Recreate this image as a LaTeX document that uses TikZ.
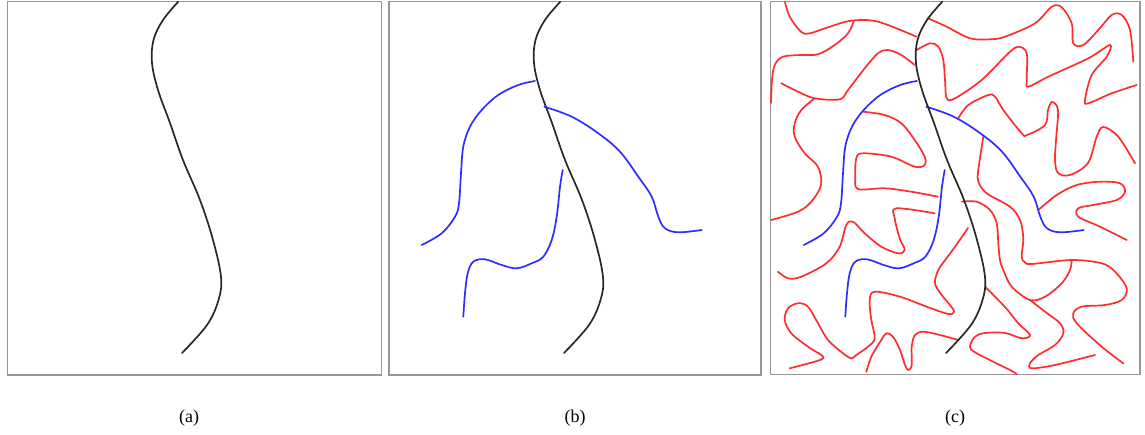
\documentclass[tikz,border=0pt]{standalone}
\usepackage{fontspec}
\setmainfont{Liberation Serif}
\definecolor{fr}{RGB}{150,150,150}
\definecolor{rd}{RGB}{255,45,45}
\definecolor{bl}{RGB}{45,45,255}
\definecolor{bk}{RGB}{40,40,40}
\tikzset{
  frame/.style={draw=fr, line width=1.4pt},
  blk/.style={draw=bk, line width=1.7pt, line cap=round},
  blu/.style={draw=bl, line width=1.7pt, line cap=round},
  red/.style={draw=rd, line width=1.7pt, line cap=round},
  lab/.style={font=\fontsize{18}{21}\selectfont, inner sep=0pt}
}
\def\blackcurve{plot[smooth,tension=0.6] coordinates{(178.3,1.7)(163,20)(153.5,40)(152,63)(158,90)(170,123)(183,160)(200,200)(213,240)(221,277)(218.5,300)(207,325)(182,353)}}
\begin{document}
\begin{tikzpicture}[x=1pt,y=-1pt]
\useasboundingbox (0,0) rectangle (1145,434);
% frames
\draw[frame] (7.3,1.7) rectangle (381.7,374.8);
\draw[frame] (389,1.7) rectangle (761,374.8);
\draw[frame] (770.7,1.7) rectangle (1140,374.2);
% (a)
\draw[blk] \blackcurve;
% (b)
\begin{scope}[shift={(382,0)}]
\draw[blk] \blackcurve;
\end{scope}
\draw[blu] plot[smooth,tension=0.6] coordinates{(535,81)(518.3,85)(498.3,95)(481.7,110)(470,126.7)(463.3,146.7)(461,173.3)(459,203.3)(455,216.7)(441.7,233.3)(421.7,245)};
\draw[blu] plot[smooth,tension=0.6] coordinates{(544.3,106.7)(571.7,116.7)(598.3,133.3)(620,151.7)(638.3,176.7)(651.7,196.7)(658.3,216.7)(665,228.3)(678.3,232.3)(701.7,230)};
\draw[blu] plot[smooth,tension=0.6] coordinates{(562.7,170)(560,186.7)(556.7,216.7)(551.7,240)(543.3,256.7)(531.7,263.3)(516.7,268.3)(501.7,265)(485,259.3)(473.3,261.7)(467.7,273.3)(465,293.3)(463.3,316.7)};
% (c) red curves
\begin{scope}
\draw[red] plot[smooth,tension=0.55] coordinates{(785,2)(789.7,16.7)(801,31.7)(809.7,33.3)(828,27.3)(851.3,20.7)(878,21.7)(916.3,36.7)};
\draw[red] plot[smooth,tension=0.55] coordinates{(854,20.7)(848,33.3)(834.7,45)(818,54.3)(801.3,55)(783,56.7)(774.7,65)(772,80)(771,103)};
\draw[red] plot[smooth,tension=0.55] coordinates{(781.3,83.3)(798,91.7)(814.7,98.3)(839.7,99.3)(848,90)(864.7,68.3)(878,53.3)(888,50)(901.3,55)(914.7,65)};
\draw[red] plot[smooth,tension=0.55] coordinates{(814.7,98.3)(801.3,110)(794.7,123.3)(794.7,136.7)(804.7,153.3)(818,166.7)(821,185)(811.3,201.7)(798,211.7)(771.3,220)};
\draw[red] plot[smooth,tension=0.55] coordinates{(928,18.3)(946.7,26.7)(970,38.3)(990,39.3)(1005,36.7)(1035,23.3)(1051.7,6.7)(1061.7,7.3)(1071.7,23.3)(1073.3,43.3)(1083.3,45)(1098.3,30)(1111.7,15)(1121.7,15)(1130,30)(1133.3,61.7)};
\draw[red] plot[smooth,tension=0.55] coordinates{(916.7,50)(930,43.3)(938.3,46.7)(943.3,60)(945,80)(946.7,98.3)(955,98.3)(981.7,80)(1008.3,53.3)(1018.3,46.7)(1026.7,53.3)(1026.7,80)(1028.3,86.7)(1048.3,76.7)(1088.3,58.3)(1110,45)(1106.7,56.7)(1091.7,75)(1085,100)(1088.3,103.3)(1111.7,93.3)(1136.7,85)};
\draw[red] plot[smooth,tension=0.55] coordinates{(863,111.7)(884.7,115)(901.3,123.3)(914.7,140)(924.7,156.7)(924.7,165)(914.7,166.7)(891.3,156.7)(863,153.3)(856.3,158.3)(855.3,176.7)(858,189)(884.7,188.3)(911.3,191.7)(938,196.7)};
\draw[red] plot[smooth,tension=0.55] coordinates{(934.7,213.3)(896.3,208.3)(894.7,218.3)(899.7,238.3)(904.7,250)(898,253.3)(881.3,246.7)(864.7,233.3)(853,221.7)(846.3,225)(839.7,246.7)(826.3,263.3)(801.3,276.7)(788,278.3)(778,271.7)};
\draw[red] plot[smooth,tension=0.55] coordinates{(968,228)(956.3,245)(946.7,258)(938.3,270)(935,283.3)(941.7,295)(950,305)(954,311.7)(948.3,314)(926.7,306.7)(900,296.7)(874.7,291.7)(869.7,300)(871.3,320)(874.7,338.3)(868,346.7)(856.3,355)(851.3,358.3)(843,353.3)(828,340)(818,323.3)(808,306.7)(798,303.3)(788,308.3)(784.7,320)(791.3,333.3)(808,346.7)(821.3,355)(823,358.3)(814.7,361.7)(789.7,368.3)};
\draw[red] plot[smooth,tension=0.55] coordinates{(958.3,118.3)(968.3,105)(988.3,95)(995,96.7)(1003.3,110)(1021.7,133.3)(1027,135)(1045,125)(1048,110)(1052,102)(1058,110)(1056,140)(1055,160)(1058,173)(1070,175)(1088,163)(1096.7,136.7)(1103.3,127)(1118.3,136.7)(1135,163.3)};
\draw[red] plot[smooth,tension=0.55] coordinates{(983.3,136.7)(978.3,170)(978.3,181.7)(986.7,193.3)(1010,206.7)(1020,220)(1023.3,238.3)(1021.7,256.7)(1025,262.3)(1031.7,264)(1071.7,260)(1101.7,263.3)(1115,271.7)(1126.7,288.3)(1121.7,300)(1105,305)(1081.7,306.7)(1073.3,313.3)(1076.7,323.3)(1101.7,346.7)(1123.3,363.3)};
\draw[red] plot[smooth,tension=0.55] coordinates{(1038.3,210)(1056.7,195)(1076.7,185)(1100,181.7)(1120,183.3)(1125,191.7)(1116.7,200)(1093.3,205)(1078.3,208.3)(1078.3,216.7)(1100,226.7)(1126.7,240)};
\draw[red] plot[smooth,tension=0.55] coordinates{(962,201.7)(976.7,201.7)(990,210)(996.7,223.3)(998.3,243.3)(1000,260)(1003.3,270)(1011.7,286.7)(1030,300)(1045,296.7)(1061.7,283.3)(1070,270)(1071.7,260)};
\draw[red] plot[smooth,tension=0.55] coordinates{(1030,300)(1045,311.7)(1060,323.3)(1063.3,333.3)(1055,345)(1038.3,355)(1030,363.3)(1031.7,368.3)(1055,365)(1095,355)};
\draw[red] plot[smooth,tension=0.55] coordinates{(985,286.7)(1005,307)(1018.3,323.3)(1030,335)(1021.7,338.3)(1005,333)(985,333)(975,336.7)(970,346.7)(976.7,353.3)(1010,370)(1016.7,374)};
\draw[red] plot[smooth,tension=0.55] coordinates{(866.3,372)(871.3,356.7)(881.3,340)(886.3,333.3)(893,336.7)(900,350)(905,365)(908.3,370)(911.7,365)(911.7,346.7)(915,335)(923.3,331.7)(940,335)(958.3,340)};
\end{scope}
\begin{scope}[shift={(382,0)}]
\draw[blu] plot[smooth,tension=0.6] coordinates{(535,81)(518.3,85)(498.3,95)(481.7,110)(470,126.7)(463.3,146.7)(461,173.3)(459,203.3)(455,216.7)(441.7,233.3)(421.7,245)};
\draw[blu] plot[smooth,tension=0.6] coordinates{(544.3,106.7)(571.7,116.7)(598.3,133.3)(620,151.7)(638.3,176.7)(651.7,196.7)(658.3,216.7)(665,228.3)(678.3,232.3)(701.7,230)};
\draw[blu] plot[smooth,tension=0.6] coordinates{(562.7,170)(560,186.7)(556.7,216.7)(551.7,240)(543.3,256.7)(531.7,263.3)(516.7,268.3)(501.7,265)(485,259.3)(473.3,261.7)(467.7,273.3)(465,293.3)(463.3,316.7)};
\end{scope}
\begin{scope}[shift={(764,0)}]
\draw[blk] \blackcurve;
\end{scope}
% labels
\node[lab] (la) at (189,418) {(a)};
\node[lab] (lb) at (575,418) {(b)};
\node[lab] (lc) at (955,418) {(c)};
\end{tikzpicture}
\end{document}
